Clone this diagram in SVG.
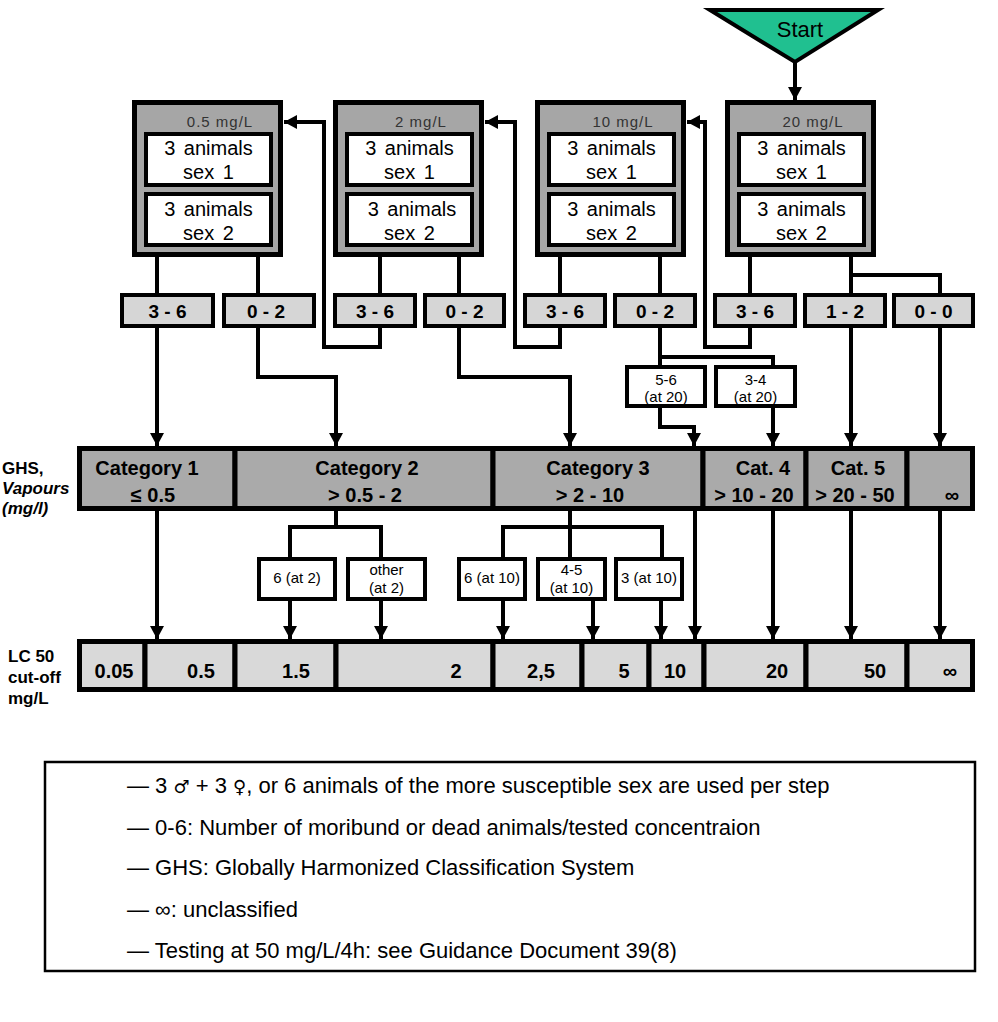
<svg xmlns="http://www.w3.org/2000/svg" width="998" height="1022" viewBox="0 0 998 1022">
<defs>
<marker id="arr" markerUnits="userSpaceOnUse" markerWidth="13" markerHeight="14" viewBox="0 0 13 14" refX="13" refY="7" orient="auto"><path d="M0,0 L13,7 L0,14 z" fill="#000"/></marker>
</defs>
<style>
.c{fill:none;stroke:#000;stroke-width:4;stroke-linejoin:miter;stroke-linecap:butt}
.a{marker-end:url(#arr)}
.tb{fill:#a6a6a6;stroke:#000;stroke-width:5}
.sx{fill:#fff;stroke:#000;stroke-width:4}
.rb{fill:#d6d6d6;stroke:#000;stroke-width:4}
.wb{fill:#fff;stroke:#000;stroke-width:4}
.cat{fill:#aaaaaa;stroke:#000;stroke-width:5}
.lc{fill:#d9d9d9;stroke:#000;stroke-width:5}
text{font-family:"Liberation Sans",Arial,sans-serif;fill:#000}
.hd{font-size:15px;fill:#333;text-anchor:middle;letter-spacing:1px}
.an{font-size:20px;text-anchor:middle;word-spacing:3px}
.rt{font-size:19px;font-weight:bold;text-anchor:middle}
.sm{font-size:15px;text-anchor:middle}
.ct{font-size:20px;font-weight:bold;text-anchor:middle}
.lt{font-size:20px;font-weight:bold;text-anchor:middle}
.lb{font-size:17px;font-weight:bold}
.lg{font-size:22px}
.sym{font-family:"DejaVu Sans",sans-serif;font-size:18px}
</style>

<g id="connectors">
<path class="c a" d="M795,62 V100"/>
<path class="c a" d="M157,257 V446"/>
<path class="c a" d="M258,257 V377 H336 V446"/>
<path class="c a" d="M380,257 V347 H324 V122 H284"/>
<path class="c a" d="M459,257 V377 H570 V446"/>
<path class="c a" d="M560,257 V347 H515 V122 H485"/>
<path class="c" d="M660,257 V365"/>
<path class="c" d="M660,357 H773 V365"/>
<path class="c a" d="M660,408 V427 H694 V446"/>
<path class="c a" d="M773,408 V446"/>
<path class="c a" d="M750,257 V347 H705 V122 H687"/>
<path class="c a" d="M851,257 V446"/>
<path class="c a" d="M851,275 H940 V446"/>
<path class="c a" d="M157,511 V639"/>
<path class="c" d="M336,511 V527"/>
<path class="c" d="M290,557 V527 H381 V557"/>
<path class="c a" d="M290,601 V639"/>
<path class="c a" d="M381,601 V639"/>
<path class="c" d="M570,511 V557"/>
<path class="c" d="M503,557 V527 H662 V557"/>
<path class="c a" d="M503,601 V639"/>
<path class="c a" d="M593,601 V639"/>
<path class="c a" d="M661,601 V639"/>
<path class="c a" d="M695,511 V639"/>
<path class="c a" d="M773,511 V639"/>
<path class="c a" d="M851,511 V639"/>
<path class="c a" d="M940,511 V639"/>
</g>

<g id="start">
<polygon points="710,10 878,10 795,62" fill="#20c090" stroke="#000" stroke-width="4"/>
<text x="800" y="37" font-size="22" text-anchor="middle" fill="#1a1a1a">Start</text>
</g>

<g id="test-0-5">
<rect class="tb" x="134.5" y="102.5" width="146" height="152"/>
<text class="hd" x="220" y="127">0.5 mg/L</text>
<rect class="sx" x="146" y="134" width="125" height="51"/>
<rect class="sx" x="146" y="194" width="125" height="51"/>
<text class="an" x="208.5" y="155">3 animals</text>
<text class="an" x="208.5" y="179">sex 1</text>
<text class="an" x="208.5" y="216">3 animals</text>
<text class="an" x="208.5" y="240">sex 2</text>
</g>
<g id="test-2">
<rect class="tb" x="335.5" y="102.5" width="146" height="152"/>
<text class="hd" x="421" y="127">2 mg/L</text>
<rect class="sx" x="347" y="134" width="125" height="51"/>
<rect class="sx" x="347" y="194" width="125" height="51"/>
<text class="an" x="409.5" y="155">3 animals</text>
<text class="an" x="409.5" y="179">sex 1</text>
<text class="an" x="412" y="216">3 animals</text>
<text class="an" x="409.5" y="240">sex 2</text>
</g>
<g id="test-10">
<rect class="tb" x="537.5" y="102.5" width="146" height="152"/>
<text class="hd" x="623" y="127">10 mg/L</text>
<rect class="sx" x="549" y="134" width="125" height="51"/>
<rect class="sx" x="549" y="194" width="125" height="51"/>
<text class="an" x="611.5" y="155">3 animals</text>
<text class="an" x="611.5" y="179">sex 1</text>
<text class="an" x="611.5" y="216">3 animals</text>
<text class="an" x="611.5" y="240">sex 2</text>
</g>
<g id="test-20">
<rect class="tb" x="727.5" y="102.5" width="146" height="152"/>
<text class="hd" x="813" y="127">20 mg/L</text>
<rect class="sx" x="739" y="134" width="125" height="51"/>
<rect class="sx" x="739" y="194" width="125" height="51"/>
<text class="an" x="801.5" y="155">3 animals</text>
<text class="an" x="801.5" y="179">sex 1</text>
<text class="an" x="801.5" y="216">3 animals</text>
<text class="an" x="801.5" y="240">sex 2</text>
</g>

<g id="r1"><rect class="rb" x="122" y="295" width="91" height="31"/><text class="rt" x="167.5" y="318">3 - 6</text></g>
<g id="r2"><rect class="rb" x="224" y="295" width="90" height="31"/><text class="rt" x="266" y="318">0 - 2</text></g>
<g id="r3"><rect class="rb" x="335" y="295" width="80" height="31"/><text class="rt" x="375" y="318">3 - 6</text></g>
<g id="r4"><rect class="rb" x="425" y="295" width="79" height="31"/><text class="rt" x="464.5" y="318">0 - 2</text></g>
<g id="r5"><rect class="rb" x="525" y="295" width="80" height="31"/><text class="rt" x="565" y="318">3 - 6</text></g>
<g id="r6"><rect class="rb" x="615" y="295" width="80" height="31"/><text class="rt" x="655" y="318">0 - 2</text></g>
<g id="r7"><rect class="rb" x="715" y="295" width="80" height="31"/><text class="rt" x="755" y="318">3 - 6</text></g>
<g id="r8"><rect class="rb" x="805" y="295" width="80" height="31"/><text class="rt" x="845" y="318">1 - 2</text></g>
<g id="r9"><rect class="rb" x="894" y="295" width="79" height="31"/><text class="rt" x="933.5" y="318">0 - 0</text></g>

<g id="s56"><rect class="wb" x="627" y="367" width="78" height="39"/><text class="sm" x="666" y="385">5-6</text><text class="sm" x="666" y="402">(at 20)</text></g>
<g id="s34"><rect class="wb" x="716" y="367" width="79" height="39"/><text class="sm" x="755.5" y="385">3-4</text><text class="sm" x="755.5" y="402">(at 20)</text></g>

<g id="categories">
<rect class="cat" x="79.5" y="448.5" width="155.5" height="60"/>
<rect class="cat" x="235" y="448.5" width="258" height="60"/>
<rect class="cat" x="493" y="448.5" width="210" height="60"/>
<rect class="cat" x="703" y="448.5" width="103" height="60"/>
<rect class="cat" x="806" y="448.5" width="101" height="60"/>
<rect class="cat" x="907" y="448.5" width="65.5" height="60"/>
<text class="ct" x="147" y="475">Category 1</text>
<text class="ct" x="153" y="502">≤ 0.5</text>
<text class="ct" x="367" y="475">Category 2</text>
<text class="ct" x="365" y="502">&gt; 0.5 - 2</text>
<text class="ct" x="598" y="475">Category 3</text>
<text class="ct" x="590" y="502">&gt; 2 - 10</text>
<text class="ct" x="763" y="475">Cat. 4</text>
<text class="ct" x="754" y="502">&gt; 10 - 20</text>
<text class="ct" x="858" y="475">Cat. 5</text>
<text class="ct" x="855" y="502">&gt; 20 - 50</text>
<text class="ct" x="952" y="502">∞</text>
</g>

<g id="c2a"><rect class="wb" x="259" y="559" width="76" height="40"/><text class="sm" x="297" y="583">6 (at 2)</text></g>
<g id="c2b"><rect class="wb" x="348" y="559" width="77" height="40"/><text class="sm" x="386.5" y="575">other</text><text class="sm" x="386.5" y="593">(at 2)</text></g>
<g id="c3a"><rect class="wb" x="459" y="559" width="66" height="40"/><text class="sm" x="492" y="583">6 (at 10)</text></g>
<g id="c3b"><rect class="wb" x="538" y="559" width="67" height="40"/><text class="sm" x="571.5" y="575">4-5</text><text class="sm" x="571.5" y="593">(at 10)</text></g>
<g id="c3c"><rect class="wb" x="616" y="559" width="66" height="40"/><text class="sm" x="649" y="583">3 (at 10)</text></g>

<g id="lc50">
<rect class="lc" x="79.5" y="641.5" width="65.5" height="48"/>
<rect class="lc" x="145" y="641.5" width="90" height="48"/>
<rect class="lc" x="235" y="641.5" width="101" height="48"/>
<rect class="lc" x="336" y="641.5" width="157" height="48"/>
<rect class="lc" x="493" y="641.5" width="89" height="48"/>
<rect class="lc" x="582" y="641.5" width="67" height="48"/>
<rect class="lc" x="649" y="641.5" width="55" height="48"/>
<rect class="lc" x="704" y="641.5" width="102" height="48"/>
<rect class="lc" x="806" y="641.5" width="101" height="48"/>
<rect class="lc" x="907" y="641.5" width="65.5" height="48"/>
<text class="lt" x="114" y="678">0.05</text>
<text class="lt" x="201" y="678">0.5</text>
<text class="lt" x="296" y="678">1.5</text>
<text class="lt" x="456" y="678">2</text>
<text class="lt" x="541" y="678">2,5</text>
<text class="lt" x="624" y="678">5</text>
<text class="lt" x="675" y="678">10</text>
<text class="lt" x="777" y="678">20</text>
<text class="lt" x="875" y="678">50</text>
<text class="lt" x="950" y="678">∞</text>
</g>

<g id="labels">
<text class="lb" x="2" y="474">GHS,</text>
<text class="lb" x="2" y="494" font-style="italic">Vapours</text>
<text class="lb" x="2" y="514" font-style="italic">(mg/l)</text>
<text class="lb" x="8" y="662">LC 50</text>
<text class="lb" x="8" y="683">cut-off</text>
<text class="lb" x="8" y="704">mg/L</text>
</g>

<g id="legend">
<rect x="45" y="762" width="930" height="209" fill="none" stroke="#000" stroke-width="2.5"/>
<text class="lg" x="127" y="793">— 3 <tspan class="sym">♂</tspan> + 3 <tspan class="sym">♀</tspan>, or 6 animals of the more susceptible sex are used per step</text>
<text class="lg" x="127" y="835">— 0-6: Number of moribund or dead animals/tested concentraion</text>
<text class="lg" x="127" y="875">— GHS: Globally Harmonized Classification System</text>
<text class="lg" x="127" y="917">— ∞: unclassified</text>
<text class="lg" x="127" y="958">— Testing at 50 mg/L/4h: see Guidance Document 39(8)</text>
</g>
</svg>
